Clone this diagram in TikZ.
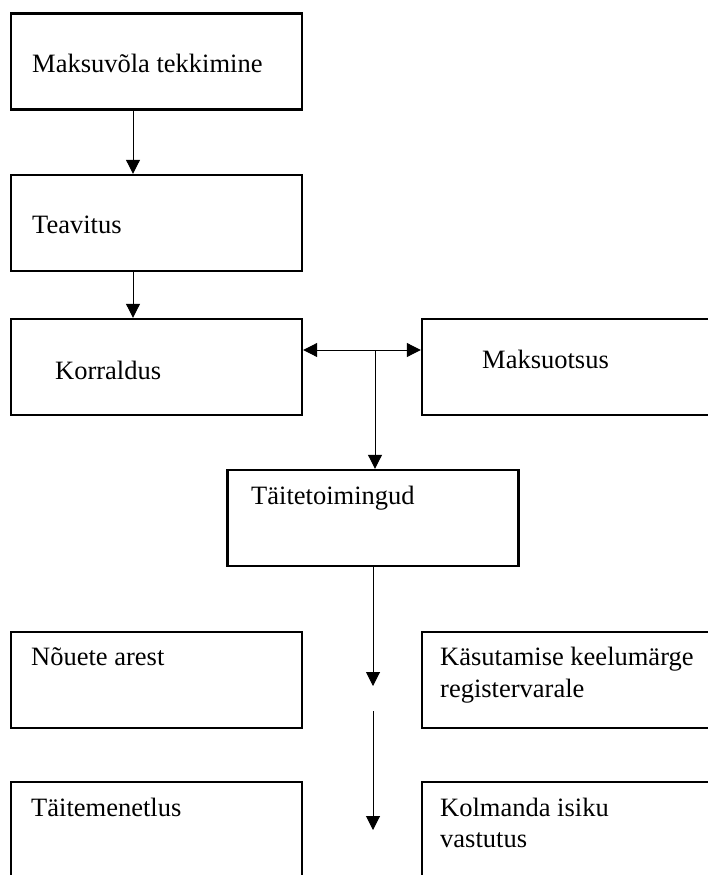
\documentclass[tikz,border=0pt]{standalone}
\usepackage{fontspec}
\setmainfont{Liberation Serif}
\usetikzlibrary{arrows.meta}
\begin{document}
\begin{tikzpicture}[x=1pt,y=-1pt,
  box/.style={draw,line width=2.4pt,rectangle,minimum width=291pt,minimum height=96pt,inner sep=0pt},
  lbl/.style={anchor=base west,inner sep=0pt,font=\fontsize{26.5}{32}\selectfont,align=left},
  conn/.style={line width=1pt,-{Triangle[width=14pt,length=14pt]}}]
\useasboundingbox (0,0) rectangle (708,875);
\clip (0,0) rectangle (708,875);
% boxes (centers)
\node[box] (b1) at (156.5,61.5) {};
\node[box] (b2) at (156.5,223) {};
\node[box] (b3) at (156.5,367) {};
\node[box] (b4) at (567.5,367) {};
\node[box] (b5) at (373,518) {};
\node[box] (b6) at (156.5,680) {};
\node[box] (b7) at (567.5,680) {};
\node[box] (b8) at (156.5,830) {};
\node[box] (b9) at (567.5,830) {};
% labels
\node[lbl] (l1) at (32,72) {Maksuvõla tekkimine};
\node[lbl] (l2) at (32,233) {Teavitus};
\node[lbl] (l3) at (55,379) {Korraldus};
\node[lbl] (l4) at (482,368) {Maksuotsus};
\node[lbl] (l5) at (251,504) {Täitetoimingud};
\node[lbl] (l6) at (31,665) {Nõuete arest};
\node[lbl] (l7) at (440,697) {Käsutamise keelumärge\\registervarale};
\node[lbl] (l8) at (31,816) {Täitemenetlus};
\node[lbl,font=\fontsize{26.5}{31}\selectfont] (l9) at (440,847) {Kolmanda isiku\\vastutus};
% connectors
\draw[conn] ([xshift=-23.5pt]b1.south) -- ([xshift=-23.5pt]b2.north);
\draw[conn] ([xshift=-23.5pt]b2.south) -- ([xshift=-23.5pt]b3.north);
\coordinate (j) at (375,350);
\draw[line width=1pt,{Triangle[width=14pt,length=14pt]}-{Triangle[width=14pt,length=14pt]}] (b3.east |- j) -- (b4.west |- j);
\draw[conn] (j) -- (j |- b5.north);
\coordinate (tip1) at (373,686);
\coordinate (s2) at (373,711);
\coordinate (tip2) at (373,830);
\draw[conn] (b5.south) -- (tip1);
\draw[conn] (s2) -- (tip2);
\end{tikzpicture}
\end{document}
